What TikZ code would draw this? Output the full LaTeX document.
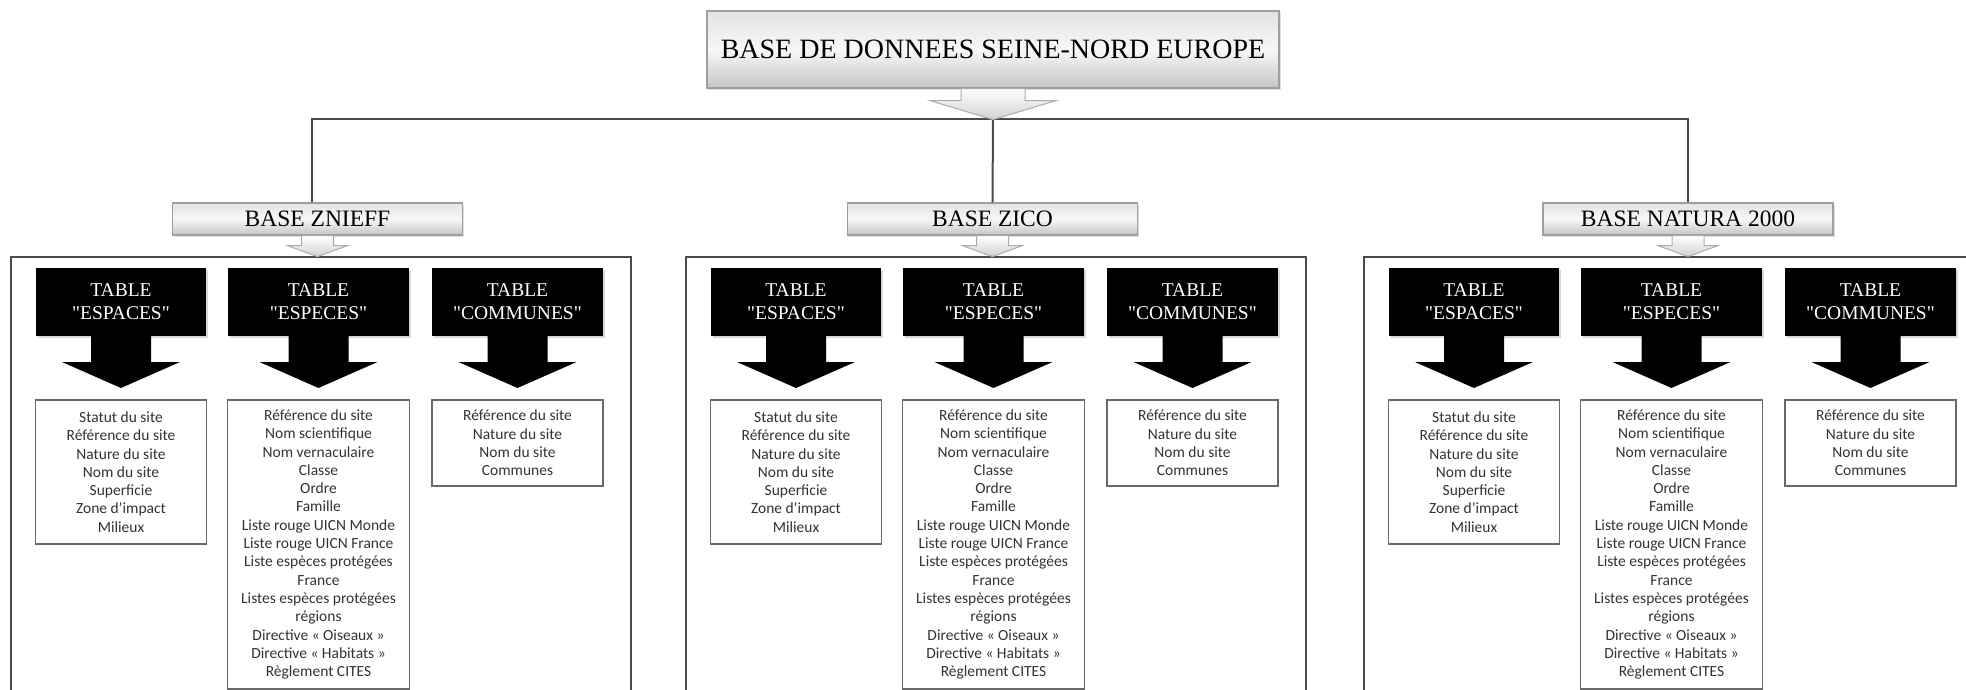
\documentclass[tikz,border=0pt]{standalone}
\usepackage{fontspec}
\setmainfont{Liberation Serif}
\newfontfamily\listfont{Carlito}
\usetikzlibrary{positioning,calc,shadows}
\definecolor{linegray}{RGB}{75,75,75}
\definecolor{boxgray}{RGB}{105,105,105}
\tikzset{
  titlebox/.style={draw=gray!75,line width=1.2pt,top color=gray!22,bottom color=gray!45,middle color=gray!6,
    minimum width=572pt,minimum height=77pt,inner sep=0pt,font=\fontsize{28}{32}\selectfont,
    drop shadow={shadow xshift=2pt,shadow yshift=-2pt,opacity=.25}},
  basebox/.style={draw=gray!75,line width=1.2pt,top color=gray!22,bottom color=gray!45,middle color=gray!6,
    minimum width=290pt,minimum height=32pt,inner sep=0pt,font=\fontsize{23.5}{26}\selectfont,
    drop shadow={shadow xshift=1.5pt,shadow yshift=-1.5pt,opacity=.25}},
  tablebox/.style={fill=black,text=white,align=center,minimum height=68pt,inner sep=0pt,outer sep=0pt,
    font=\fontsize{19.5}{23}\selectfont,drop shadow={shadow xshift=1.5pt,shadow yshift=-1.5pt,opacity=.3}},
  listbox/.style={draw=boxgray,line width=1.2pt,fill=white,align=center,inner sep=0pt,outer sep=0pt,
    text=black!80,font=\listfont\fontsize{15.5}{18.3}\selectfont},
  grayarrow/.style={draw=gray!65,line width=1pt,top color=white,bottom color=gray!35},
  blackarrow/.style={fill=black},
  conn/.style={draw=linegray,line width=2pt},
  panel/.style={draw=linegray,line width=2pt},
}
% block arrow pointing down: style, top point, shaft/2, head/2, shaft length, tip depth
\newcommand{\blockarrow}[6]{%
  \path[#1] ($(#2)+(-#3,0)$) -- ($(#2)+(-#3,-#5)$) -- ($(#2)+(-#4,-#5)$) -- ($(#2)+(0,-#6)$)
    -- ($(#2)+(#4,-#5)$) -- ($(#2)+(#3,-#5)$) -- ($(#2)+(#3,0)$) -- cycle;}
\newcommand{\qt}[1]{\textquotedbl#1\textquotedbl}
\newcommand{\espacesList}{Statut du site\\Référence du site\\Nature du site\\Nom du site\\Superficie\\Zone d’impact\\Milieux}
\newcommand{\especesList}{Référence du site\\Nom scientifique\\Nom vernaculaire\\Classe\\Ordre\\Famille\\
  Liste rouge UICN Monde\\Liste rouge UICN France\\Liste espèces protégées\\France\\
  Listes espèces protégées\\régions\\Directive « Oiseaux »\\Directive « Habitats »\\Règlement CITES}
\newcommand{\communesList}{Référence du site\\Nature du site\\Nom du site\\Communes}

\begin{document}
\begin{tikzpicture}[x=1pt,y=1pt]
  \useasboundingbox (0,0) rectangle (1966,-690);
  \clip (0,0) rectangle (1966,-690);
  \fill[white] (0,0) rectangle (1966,-690);

  \node[titlebox] (title) at (993,-49.5) {BASE DE DONNEES SEINE-NORD EUROPE};
  \coordinate (hub) at (993,-119);

  \foreach \p/\name/\x/\bx in {znieff/BASE ZNIEFF/0/317.5, zico/BASE ZICO/675/992.5, natura/BASE NATURA 2000/1353/1688}{
    \draw[panel] (\x+11,-700) |- (\x+631,-257) -- (\x+631,-700);
    \node[basebox] (\p) at (\bx,-219) {\name};
    \blockarrow{grayarrow}{\p.south}{16}{30}{10}{21}
    % the three tables
    \node[tablebox,minimum width=170pt] (\p-esp) at (\x+121,-302) {TABLE\\\qt{ESPACES}};
    \node[tablebox,minimum width=181pt,right=22pt of \p-esp] (\p-spe) {TABLE\\\qt{ESPECES}};
    \node[tablebox,minimum width=171pt,right=23pt of \p-spe] (\p-com) {TABLE\\\qt{COMMUNES}};
    \blockarrow{blackarrow}{\p-esp.south}{30}{59}{26}{52}
    \blockarrow{blackarrow}{\p-spe.south}{30}{59}{26}{52}
    \blockarrow{blackarrow}{\p-com.south}{30}{59}{26}{52}
    \node[listbox,minimum width=171pt,minimum height=144pt,below=64pt of \p-esp] (\p-esplist) {\espacesList};
    \node[listbox,minimum width=182pt,minimum height=289pt,below=64pt of \p-spe] (\p-spelist) {\especesList};
    \node[listbox,minimum width=171pt,minimum height=86pt,below=64pt of \p-com] (\p-comlist) {\communesList};
  }

  \draw[conn] ([xshift=-6pt]znieff.north) |- (hub) -| (natura.north);
  \draw[conn] (hub) -- (zico.north);
  \blockarrow{grayarrow}{title.south}{32}{63}{12}{31}
\end{tikzpicture}
\end{document}
